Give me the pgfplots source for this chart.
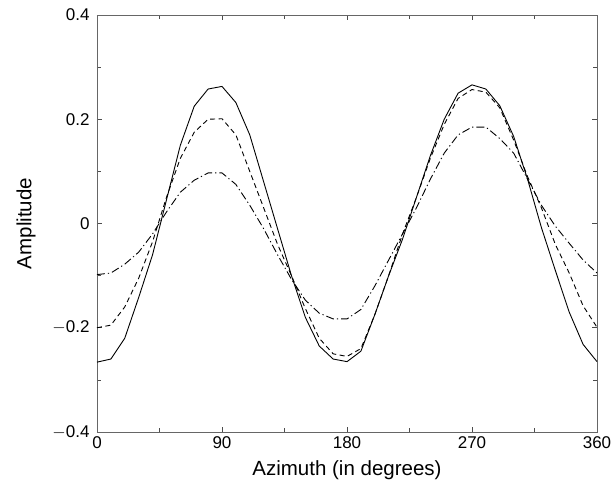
\documentclass[border=0pt]{standalone}
\usepackage{pgfplots}
\pgfplotsset{compat=1.18}
\usepackage{fontspec}
\setmainfont{Liberation Sans}
\begin{document}
\begin{tikzpicture}
\path[use as bounding box] (-97bp,-49bp) rectangle (515bp,432bp);
\begin{axis}[
  scale only axis,
  width=500bp, height=417bp,
  xmin=0, xmax=360, ymin=-0.4, ymax=0.4,
  xtick={0,90,180,270,360},
  minor xtick={45,135,225,315},
  ytick={-0.4,-0.2,0,0.2,0.4},
  yticklabels={$-$0.4,$-$0.2,0,0.2,0.4},
  minor ytick={-0.3,-0.1,0.1,0.3},
  tick align=inside,
  major tick length=5bp, minor tick length=4bp,
  tick style={black!70, line width=0.6pt},
  axis line style={black!60, line width=0.8pt},
  /pgf/number format/assume math mode=true,
  ticklabel style={font=\fontsize{17bp}{20bp}\selectfont},
  xticklabel style={yshift=-1bp},
  yticklabel style={xshift=-4bp},
  label style={font=\fontsize{20.5bp}{24bp}\selectfont},
  xlabel={Azimuth (in degrees)},
  ylabel={Amplitude},
  xlabel style={yshift=-5bp},
  ylabel style={yshift=10bp},
]
% solid
\addplot[black, solid, no markers, line width=0.9pt] coordinates {
(0,-0.266)(10,-0.260)(20,-0.220)(30,-0.142)(40,-0.060)(50,0.045)(60,0.150)(70,0.225)(80,0.258)(90,0.263)
(100,0.232)(110,0.170)(120,0.080)(130,-0.010)(140,-0.100)(150,-0.180)(160,-0.235)(170,-0.260)(180,-0.265)
(190,-0.245)(200,-0.175)(210,-0.100)(220,-0.030)(230,0.050)(240,0.130)(250,0.200)(260,0.250)(270,0.266)
(280,0.258)(290,0.226)(300,0.167)(310,0.085)(320,-0.008)(330,-0.090)(340,-0.170)(350,-0.232)(360,-0.265)
};
% dashed
\addplot[black, no markers, line width=0.9pt, dash pattern=on 5bp off 3.5bp] coordinates {
(0,-0.200)(10,-0.195)(20,-0.160)(30,-0.105)(40,-0.035)(50,0.050)(60,0.125)(70,0.175)(80,0.200)(90,0.201)
(100,0.170)(110,0.100)(120,0.030)(130,-0.040)(140,-0.100)(150,-0.163)(160,-0.220)(170,-0.250)(180,-0.255)
(190,-0.240)(200,-0.175)(210,-0.100)(220,-0.020)(230,0.050)(240,0.125)(250,0.190)(260,0.240)(270,0.257)
(280,0.252)(290,0.222)(300,0.160)(310,0.090)(320,0.030)(330,-0.040)(340,-0.095)(350,-0.158)(360,-0.199)
};
% dash-dot
\addplot[black, no markers, line width=0.9pt, dash pattern=on 8bp off 3bp on 1.2bp off 3bp] coordinates {
(0,-0.098)(10,-0.095)(20,-0.078)(30,-0.055)(40,-0.020)(50,0.022)(60,0.060)(70,0.083)(80,0.097)(90,0.097)
(100,0.075)(110,0.035)(120,-0.010)(130,-0.060)(140,-0.107)(150,-0.147)(160,-0.172)(170,-0.183)(180,-0.183)
(190,-0.165)(200,-0.120)(210,-0.070)(220,-0.020)(230,0.030)(240,0.085)(250,0.135)(260,0.170)(270,0.185)
(280,0.185)(290,0.163)(300,0.135)(310,0.085)(320,0.035)(330,-0.005)(340,-0.038)(350,-0.070)(360,-0.095)
};
\end{axis}
\end{tikzpicture}
\end{document}
